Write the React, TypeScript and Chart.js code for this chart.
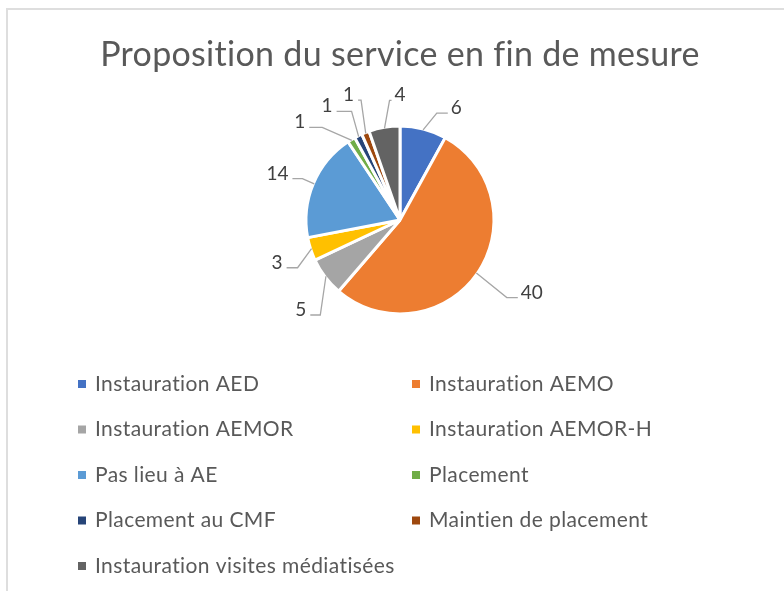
import React, { useEffect, useRef } from "react";
import { Chart, registerables } from "chart.js";

Chart.register(...registerables);

const TITLE = "Proposition du service en fin de mesure";
const categories = [
  "Instauration AED",
  "Instauration AEMO",
  "Instauration AEMOR",
  "Instauration AEMOR-H",
  "Pas lieu à AE",
  "Placement",
  "Placement au CMF",
  "Maintien de placement",
  "Instauration visites médiatisées",
];
const values = [6, 40, 5, 3, 14, 1, 1, 1, 4];
const colors = ["#4472C4", "#ED7D31", "#A5A5A5", "#FFC000", "#5B9BD5", "#70AD47", "#264478", "#9E480E", "#636363"];

// leader-line layout: elbow angle (deg, clockwise from top), elbow distance from centre, horizontal run (sign = side)
const leaderAngle = [19, 126, 220, 245, 293, 320, 336, 342, 355];
const leaderRadius = [113, 132, 124, 113, 106, 121, 119, 126, 120];
const leaderRun = [11, 11, -10, -11, -10, -13, -15, -3, 2];

const FONT = "Lato, 'Open Sans', sans-serif";

const spacingPlugin = {
  id: "spacing",
  beforeDraw(chart: any) {
    chart.ctx.letterSpacing = "0.3px";
  },
};

const labelPlugin = {
  id: "pieLabels",
  afterDatasetsDraw(chart: any) {
    const ctx = chart.ctx;
    const meta = chart.getDatasetMeta(0);
    ctx.save();
    meta.data.forEach((arc: any, i: number) => {
      const p = arc.getProps(["x", "y", "startAngle", "endAngle", "outerRadius"], true);
      const mid = (p.startAngle + p.endAngle) / 2;
      const ax = p.x + Math.cos(mid) * (p.outerRadius - 1);
      const ay = p.y + Math.sin(mid) * (p.outerRadius - 1);
      const ea = (leaderAngle[i] * Math.PI) / 180 - Math.PI / 2;
      const ex = p.x + Math.cos(ea) * leaderRadius[i];
      const ey = p.y + Math.sin(ea) * leaderRadius[i];
      const run = leaderRun[i];
      ctx.strokeStyle = "#A6A6A6";
      ctx.lineWidth = 1.3;
      ctx.beginPath();
      ctx.moveTo(ax, ay);
      ctx.lineTo(ex, ey);
      ctx.lineTo(ex + run, ey);
      ctx.stroke();
      ctx.fillStyle = "#404040";
      ctx.font = `19px ${FONT}`;
      ctx.letterSpacing = "0px";
      ctx.textBaseline = "alphabetic";
      if (run >= 0) {
        ctx.textAlign = "left";
        ctx.fillText(String(values[i]), ex + run + 3, ey + 1);
      } else {
        ctx.textAlign = "right";
        ctx.fillText(String(values[i]), ex + run - 4, ey + 1);
      }
    });
    ctx.restore();
  },
  afterDraw(chart: any) {
    const ctx = chart.ctx;
    ctx.save();
    ctx.font = `21px ${FONT}`;
    ctx.letterSpacing = "0.4px";
    ctx.textBaseline = "middle";
    ctx.textAlign = "left";
    categories.forEach((c, i) => {
      const col = i % 2;
      const row = Math.floor(i / 2);
      const x0 = col === 0 ? 78 : 412;
      const y = 384 + row * 45.5;
      ctx.fillStyle = colors[i];
      ctx.fillRect(x0, y - 4, 8, 8);
      ctx.fillStyle = "#595959";
      ctx.fillText(c, x0 + 17, y);
    });
    ctx.restore();
  },
};

export default function App() {
  const ref = useRef<HTMLCanvasElement>(null);
  useEffect(() => {
    if (!ref.current) return;
    const chart = new Chart(ref.current, {
      type: "pie",
      data: {
        labels: categories,
        datasets: [
          {
            data: values,
            backgroundColor: colors,
            borderColor: "#ffffff",
            borderWidth: 3,
          },
        ],
      },
      options: {
        animation: false,
        responsive: true,
        maintainAspectRatio: false,
        radius: 94,
        layout: { padding: { left: 100, right: 84, top: 0, bottom: 226.4 } },
        plugins: {
          legend: { display: false },
          tooltip: { enabled: false },
          title: {
            display: true,
            text: TITLE,
            color: "#595959",
            font: { family: FONT, size: 34, weight: "normal" as any, lineHeight: 1.2 },
            padding: { top: 34.6, bottom: 0 },
          },
        },
      } as any,
      plugins: [spacingPlugin, labelPlugin],
    });
    return () => chart.destroy();
  }, []);
  return (
    <div style={{ position: "fixed", left: 0, top: 0, width: 784, height: 591, overflow: "hidden", background: "#fff" }}>
      <div
        style={{
          position: "absolute",
          left: 6,
          top: 8,
          width: 820,
          height: 640,
          border: "2px solid #dedede",
          boxSizing: "border-box",
        }}
      />
      <div style={{ position: "absolute", left: 0, top: 0, width: 784, height: 591 }}>
        <canvas ref={ref} />
      </div>
    </div>
  );
}
